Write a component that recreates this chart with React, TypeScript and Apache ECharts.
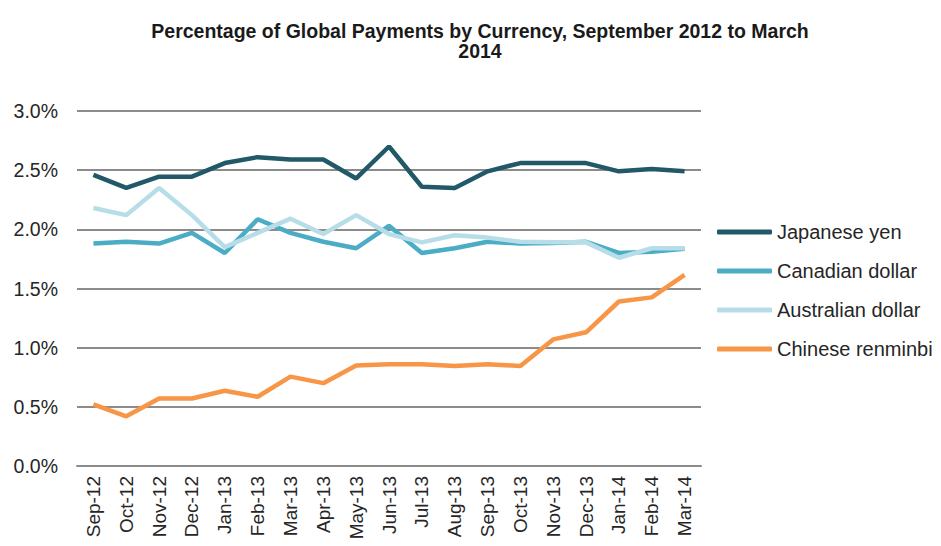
import React, { useEffect, useRef } from "react";
import * as echarts from "echarts";

const categories = [
  "Sep-12", "Oct-12", "Nov-12", "Dec-12", "Jan-13", "Feb-13", "Mar-13", "Apr-13", "May-13", "Jun-13",
  "Jul-13", "Aug-13", "Sep-13", "Oct-13", "Nov-13", "Dec-13", "Jan-14", "Feb-14", "Mar-14",
];

const japaneseYen = [2.46, 2.35, 2.445, 2.445, 2.56, 2.61, 2.59, 2.59, 2.43, 2.70, 2.36, 2.35, 2.49, 2.56, 2.56, 2.56, 2.49, 2.51, 2.49];
const canadianDollar = [1.88, 1.895, 1.88, 1.97, 1.80, 2.085, 1.97, 1.895, 1.84, 2.03, 1.80, 1.84, 1.895, 1.88, 1.885, 1.895, 1.80, 1.81, 1.835];
const australianDollar = [2.18, 2.12, 2.35, 2.12, 1.85, 1.97, 2.09, 1.96, 2.12, 1.96, 1.89, 1.95, 1.93, 1.895, 1.89, 1.89, 1.76, 1.84, 1.84];
const chineseRenminbi = [0.52, 0.42, 0.57, 0.57, 0.636, 0.585, 0.755, 0.70, 0.85, 0.86, 0.86, 0.845, 0.86, 0.845, 1.07, 1.13, 1.39, 1.425, 1.615];

const seriesNames = ["Japanese yen", "Canadian dollar", "Australian dollar", "Chinese renminbi"];
const seriesColors = ["#215968", "#4BACC6", "#B7DEE8", "#F79646"];
const seriesData = [japaneseYen, canadianDollar, australianDollar, chineseRenminbi];

const titleText = "Percentage of Global Payments by Currency, September 2012 to March\n2014";

export default function App() {
  const ref = useRef<HTMLDivElement>(null);
  useEffect(() => {
    document.body.style.margin = "0";
    if (!ref.current) return;
    const chart = echarts.init(ref.current, null, { renderer: "svg" });
    const font = "Liberation Sans, Arial, sans-serif";
    chart.setOption({
      animation: false,
      backgroundColor: "#ffffff",
      title: {
        text: titleText,
        left: 475,
        top: 16,
        textAlign: "center",
        textStyle: {
          fontFamily: font,
          fontSize: 19.5,
          fontWeight: "bold",
          color: "#1a1a1a",
          lineHeight: 20,
        },
      },
      legend: {
        orient: "vertical",
        left: 712,
        top: 216,
        itemWidth: 55,
        itemHeight: 5,
        itemGap: 17,
        itemTextGap: 5,
        icon: "roundRect",
        data: seriesNames,
        textStyle: { fontFamily: font, fontSize: 20, color: "#262626", lineHeight: 22 },
      },
      grid: { left: 77, right: 240, top: 111, bottom: 80, containLabel: false },
      xAxis: {
        type: "category",
        data: categories,
        boundaryGap: true,
        axisLine: { show: true, lineStyle: { color: "#8c8c8c", width: 2 } },
        axisTick: { show: false },
        axisLabel: {
          rotate: 90,
          interval: 0,
          margin: 10,
          fontFamily: font,
          fontSize: 19,
          color: "#262626",
        },
      },
      yAxis: {
        type: "value",
        min: 0,
        max: 3,
        interval: 0.5,
        axisLine: { show: false },
        axisTick: { show: false },
        splitLine: { lineStyle: { color: "#8c8c8c", width: 2 } },
        axisLabel: {
          formatter: (v: number) => v.toFixed(1) + "%",
          fontFamily: font,
          fontSize: 19.5,
          color: "#262626",
          margin: 19,
        },
      },
      series: seriesNames.map((name, i) => ({
        name,
        type: "line",
        data: seriesData[i],
        symbol: "none",
        lineStyle: { color: seriesColors[i], width: 4.5 },
        itemStyle: { color: seriesColors[i] },
      })),
    });
    return () => chart.dispose();
  }, []);
  return <div ref={ref} style={{ width: 941, height: 546 }} />;
}
